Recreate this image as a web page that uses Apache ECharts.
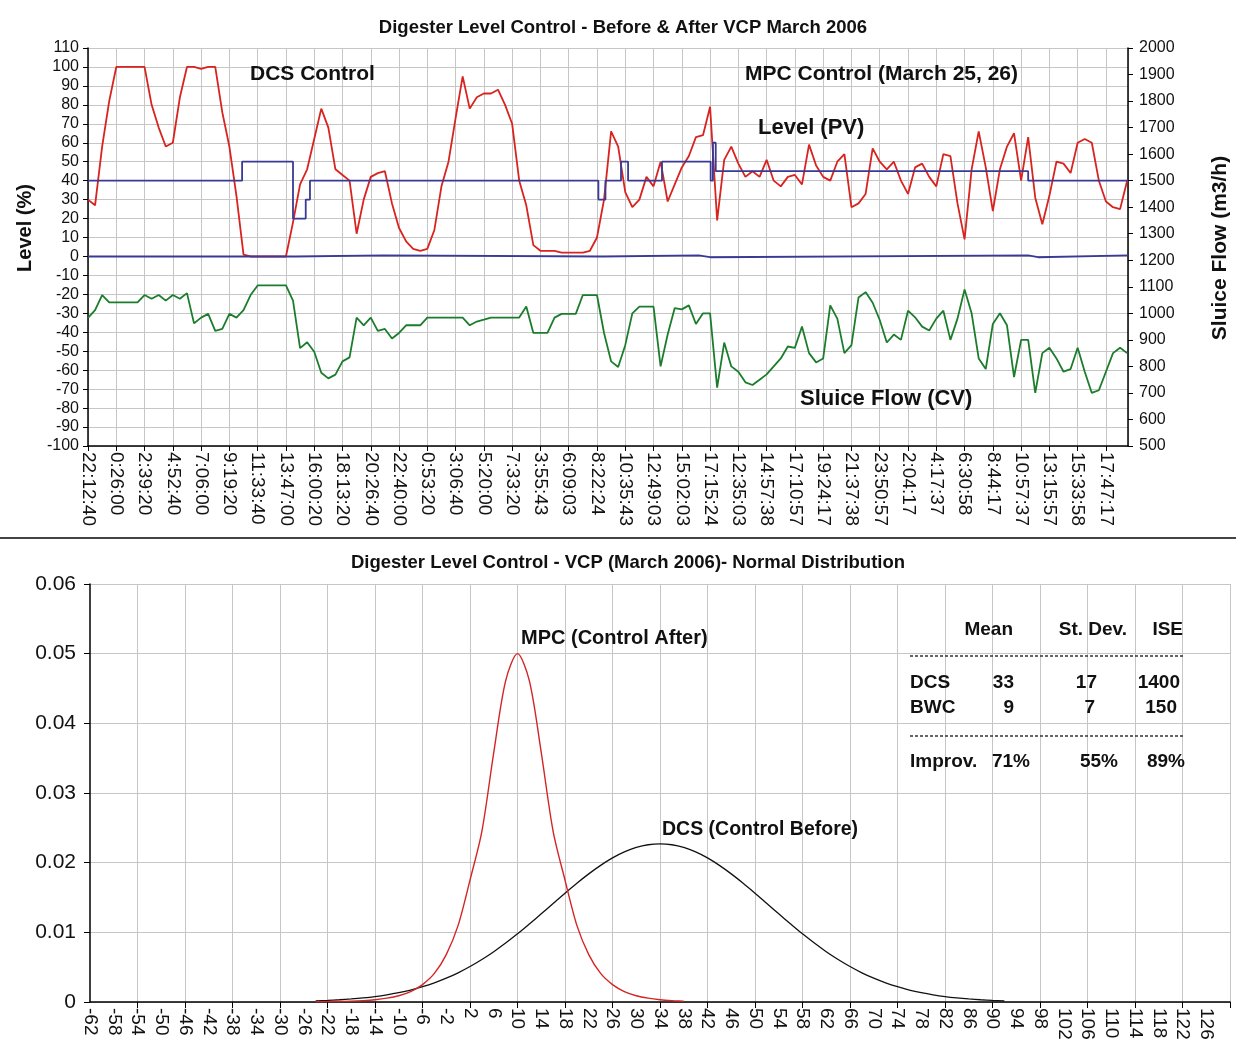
<!DOCTYPE html>
<html><head><meta charset="utf-8">
<script src="https://cdn.jsdelivr.net/npm/echarts@6/dist/echarts.min.js"></script>
<style>html,body{margin:0;padding:0;background:#fff}#c{width:1236px;height:1057px}</style>
</head><body><div id="c"></div>
<script>
// ---------- Top chart data ----------
const timeLabels = ['22:12:40','0:26:00','2:39:20','4:52:40','7:06:00','9:19:20','11:33:40','13:47:00','16:00:20','18:13:20','20:26:40','22:40:00','0:53:20','3:06:40','5:20:00','7:33:20','3:55:43','6:09:03','8:22:24','10:35:43','12:49:03','15:02:03','17:15:24','12:35:03','14:57:38','17:10:57','19:24:17','21:37:38','23:50:57','2:04:17','4:17:37','6:30:58','8:44:17','10:57:37','13:15:57','15:33:58','17:47:17'];
const STEP = 0.25;      // 4 samples per label interval
const X_END = 36.78;    // plot end, in label intervals
const levelPV = [
 30,27,58,82, 100,100,100,100, 100,80,68,58, 60,84,100,100, 99,100,100,76,
 58,32,1,0, 0,0,0,0, 0,18,38,46, 62,78,68,46, 43,40,12,30,
 42,44,45,28, 15,8,4,3, 4,14,37,50, 73,95,78,84, 86,86,88,80,
 70,40,27,6, 3,3,3,2, 2,2,2,3, 10,30,66,58, 34,26,30,42,
 37,50,29,38, 47,53,63,64, 79,19,51,58, 49,42,45,42, 51,40,37,42,
 43,38,59,48, 42,40,50,54, 26,28,33,57, 50,46,50,40, 33,47,49,42,
 37,54,53,28, 9,46,66,47, 24,46,58,65, 40,63,31,17, 32,50,49,44,
 60,62,60,40, 29,26,25,40
];
const sluiceFlow = [
 983,1012,1069,1041, 1041,1041,1041,1041, 1069,1055,1069,1048, 1069,1055,1076,962, 984,998,934,941,
 998,984,1012,1069, 1105,1105,1105,1105, 1105,1048,869,891, 855,776,755,769, 819,834,984,955,
 984,934,941,905, 926,955,955,955, 984,984,984,984, 984,984,955,969, 976,984,984,984,
 984,984,1026,926, 926,926,984,998, 998,998,1069,1069, 1069,926,819,798, 880,1000,1025,1025,
 1025,800,920,1020, 1015,1030,960,1000, 1000,720,890,800, 780,740,730,750, 770,800,830,875,
 870,950,850,815, 830,1030,980,850, 880,1060,1080,1040, 975,890,920,900, 1010,985,950,935,
 980,1010,900,980, 1090,1000,830,790, 960,1000,955,760, 900,900,700,850, 870,830,780,790,
 870,780,700,710, 780,850,870,850
];
const spTimes  = [0, 5.45, 7.25, 7.7, 7.85, 18.05, 18.3, 18.85, 19.1, 20.3, 22.02, 22.1, 22.2, 33.25];
const spValues = [40, 50,   20,   30,  40,   30,    40,   50,    40,   50,   40,    60,   45,   40];
const modeTimes  = [0, 7.35, 10.45, 18.2, 21.6, 22.0, 33.25, 33.6];
const modeValues = [0, 0.6,  0,     0.6,  -0.4, 0.6,  -0.4,  0.6];

// ---------- Bottom chart data ----------
const distTickLabels = [-62,-58,-54,-50,-46,-42,-38,-34,-30,-26,-22,-18,-14,-10,-6,-2,2,6,10,14,18,22,26,30,34,38,42,46,50,54,58,62,66,70,74,78,82,86,90,94,98,102,106,110,114,118,122,126];
const distTickMarks = [-54,-46,-38,-30,-22,-14,-6,2,10,18,26,34,42,50,58,66,74,82,90,98,106,114,122,130];
const dcsX = [-24,-22,-20,-18,-16,-14,-12,-10,-8,-6,-4,-2,0,2,4,6,8,10,12,14,16,18,20,22,24,26,28,30,32,34,36,38,40,42,44,46,48,50,52,54,56,58,60,62,64,66,68,70,72,74,76,78,80,82,84,86,88,90,92];
const dcsY = [0.00017,0.00023,0.00032,0.00044,0.00059,0.00078,0.00103,0.00134,0.00172,0.00219,0.00275,0.00342,0.00419,0.00509,0.0061,0.00722,0.00846,0.00978,0.0112,0.01266,0.01414,0.01562,0.01705,0.01839,0.01961,0.02068,0.02154,0.02218,0.02257,0.0227,0.02257,0.02218,0.02154,0.02068,0.01961,0.01839,0.01705,0.01562,0.01414,0.01266,0.0112,0.00978,0.00846,0.00722,0.0061,0.00509,0.00419,0.00342,0.00275,0.00219,0.00172,0.00134,0.00103,0.00078,0.00059,0.00044,0.00032,0.00023,0.00017];
const mpcX = [-24,-22,-20,-18,-16,-14,-12,-10,-8,-6,-4,-2,0,2,4,6,8,10,12,14,16,18,20,22,24,26,28,30,32,34,36,38];
const mpcY = [0.00003,0.00005,0.00008,0.00012,0.0002,0.00033,0.00055,0.0009,0.0015,0.0025,0.0041,0.0068,0.011,0.0175,0.0245,0.0358,0.0461,0.05,0.0461,0.0358,0.0245,0.0175,0.011,0.0068,0.0041,0.0025,0.0015,0.0009,0.00055,0.00033,0.0002,0.00012];
const tableHead = ['Mean','St. Dev.','ISE'];
const tableRows = [['DCS','33','17','1400'],['BWC','9','7','150']];
const tableImprov = ['Improv.','71%','55%','89%'];

// ---------- build ----------
const FONT = '"Liberation Sans", Arial, sans-serif';
const pv = levelPV.map((v,i)=>[i*STEP, v]);
const flow = sluiceFlow.map((v,i)=>[i*STEP, v]);
const sp = spTimes.map((t,i)=>[t, spValues[i]]); sp.push([X_END, spValues[spValues.length-1]]);
const mode = modeTimes.map((t,i)=>[t, modeValues[i]]); mode.push([X_END, modeValues[modeValues.length-1]]);
const dcs = dcsX.map((x,i)=>[x, dcsY[i]]);
const mpc = mpcX.map((x,i)=>[x, mpcY[i]]);

function txt(text, x, y, size, opts){
  opts = opts || {};
  return {type:'text', x:x, y:y, rotation: opts.rot || 0, z: 100,
    style:{text:text, fill: opts.color || '#111', font: (opts.weight||'bold')+' '+size+'px '+FONT,
      textAlign: opts.align || 'left', textVerticalAlign: 'middle', align: opts.align || 'left', verticalAlign:'middle'}};
}
const graphics = [
  txt('Digester Level Control - Before & After VCP March 2006', 623, 28, 18.5, {align:'center'}),
  txt('Digester Level Control - VCP (March 2006)- Normal Distribution', 628, 563, 18.5, {align:'center'}),
  txt('DCS Control', 250, 74, 21),
  txt('MPC Control (March 25, 26)', 745, 74, 21),
  txt('Level (PV)', 758, 128, 22),
  txt('Sluice Flow (CV)', 800, 399, 22),
  txt('Level (%)', 25, 228, 20, {align:'center', rot: Math.PI/2}),
  txt('Sluice Flow (m3/h)', 1220, 248, 21, {align:'center', rot: Math.PI/2}),
  txt('MPC (Control After)', 521, 638, 20),
  txt('DCS (Control Before)', 662, 830, 19.5),
  {type:'line', shape:{x1:0, y1:538, x2:1236, y2:538}, style:{stroke:'#444', lineWidth:2}, z:100},
  // table
  txt(tableHead[0], 1013, 630, 19, {align:'right'}),
  txt(tableHead[1], 1127, 630, 19, {align:'right'}),
  txt(tableHead[2], 1183, 630, 19, {align:'right'}),
  {type:'line', shape:{x1:910, y1:656, x2:1185, y2:656}, style:{stroke:'#333', lineWidth:1.5, lineDash:[3,2]}, z:100},
  txt(tableRows[0][0], 910, 683, 19), txt(tableRows[0][1], 1014, 683, 19, {align:'right'}),
  txt(tableRows[0][2], 1097, 683, 19, {align:'right'}), txt(tableRows[0][3], 1180, 683, 19, {align:'right'}),
  txt(tableRows[1][0], 910, 708, 19), txt(tableRows[1][1], 1014, 708, 19, {align:'right'}),
  txt(tableRows[1][2], 1095, 708, 19, {align:'right'}), txt(tableRows[1][3], 1177, 708, 19, {align:'right'}),
  {type:'line', shape:{x1:910, y1:736, x2:1185, y2:736}, style:{stroke:'#333', lineWidth:1.5, lineDash:[3,2]}, z:100},
  txt(tableImprov[0], 910, 762, 19), txt(tableImprov[1], 1030, 762, 19, {align:'right'}),
  txt(tableImprov[2], 1118, 762, 19, {align:'right'}), txt(tableImprov[3], 1185, 762, 19, {align:'right'})
];

const gridColor = '#c6c6c6';
const option = {
  animation: false,
  backgroundColor: '#fff',
  grid: [
    {left: 88, top: 48, width: 1040, height: 398},
    {left: 90, top: 584, width: 1140, height: 418}
  ],
  xAxis: [
    {gridIndex:0, type:'value', min:0, max:X_END, interval:1,
     axisLine:{onZero:false, lineStyle:{color:'#000', width:1.5}},
     axisTick:{length:5, lineStyle:{color:'#000'}},
     axisLabel:{rotate:-90, fontSize:19, fontFamily:FONT, color:'#111', margin:6, showMaxLabel:false,
       formatter: v => (Number.isInteger(v) && timeLabels[v] !== undefined) ? timeLabels[v] : ''},
     splitLine:{show:true, lineStyle:{color:gridColor, width:1}}},
    {gridIndex:1, type:'value', min:-62, max:130,
     axisLine:{onZero:false, lineStyle:{color:'#000', width:1.5}},
     axisTick:{length:6, lineStyle:{color:'#000'}, customValues: distTickMarks},
     axisLabel:{rotate:-90, fontSize:19, fontFamily:FONT, color:'#111', margin:6, customValues: distTickLabels,
       formatter: v => String(v)},
     splitLine:{show:true, lineStyle:{color:gridColor, width:1}}}
  ],
  yAxis: [
    {gridIndex:0, type:'value', min:-100, max:110, interval:10,
     axisLine:{show:true, onZero:false, lineStyle:{color:'#000', width:1.5}},
     axisTick:{show:true, length:5, lineStyle:{color:'#000'}},
     axisLabel:{fontSize:16, fontFamily:FONT, color:'#111', margin:9},
     splitLine:{show:true, lineStyle:{color:gridColor, width:1}}},
    {gridIndex:0, type:'value', position:'right', min:500, max:2000, interval:100,
     axisLine:{show:true, onZero:false, lineStyle:{color:'#000', width:1.5}},
     axisTick:{show:true, length:5, lineStyle:{color:'#000'}},
     axisLabel:{fontSize:16, fontFamily:FONT, color:'#111', margin:11, formatter: v => String(v)},
     splitLine:{show:false}},
    {gridIndex:1, type:'value', min:0, max:0.06, interval:0.01,
     axisLine:{show:true, onZero:false, lineStyle:{color:'#000', width:1.5}},
     axisTick:{show:true, length:6, lineStyle:{color:'#000'}},
     axisLabel:{fontSize:21, fontFamily:FONT, color:'#111', margin:14,
       formatter: v => v === 0 ? '0' : v.toFixed(2)},
     splitLine:{show:true, lineStyle:{color:gridColor, width:1}}}
  ],
  series: [
    {name:'Level (PV)', type:'line', xAxisIndex:0, yAxisIndex:0, data:pv, showSymbol:false, z:3,
     lineStyle:{color:'#d8231f', width:1.8}},
    {name:'Sluice Flow (CV)', type:'line', xAxisIndex:0, yAxisIndex:1, data:flow, showSymbol:false, z:3,
     lineStyle:{color:'#1b7d2b', width:1.8}},
    {name:'Setpoint', type:'line', step:'end', xAxisIndex:0, yAxisIndex:0, data:sp, showSymbol:false, z:4,
     lineStyle:{color:'#3a3a96', width:1.8}},
    {name:'Mode', type:'line', step:'end', xAxisIndex:0, yAxisIndex:0, data:mode, showSymbol:false, z:4,
     lineStyle:{color:'#3a3a96', width:1.8}},
    {name:'DCS (Control Before)', type:'line', xAxisIndex:1, yAxisIndex:2, data:dcs, showSymbol:false, smooth:0.3, z:3,
     lineStyle:{color:'#111', width:1.3}},
    {name:'MPC (Control After)', type:'line', xAxisIndex:1, yAxisIndex:2, data:mpc, showSymbol:false, smooth:0.3, z:4,
     lineStyle:{color:'#d42424', width:1.4}}
  ],
  graphic: graphics
};
const chart = echarts.init(document.getElementById('c'));
chart.setOption(option);
</script>
</body></html>
